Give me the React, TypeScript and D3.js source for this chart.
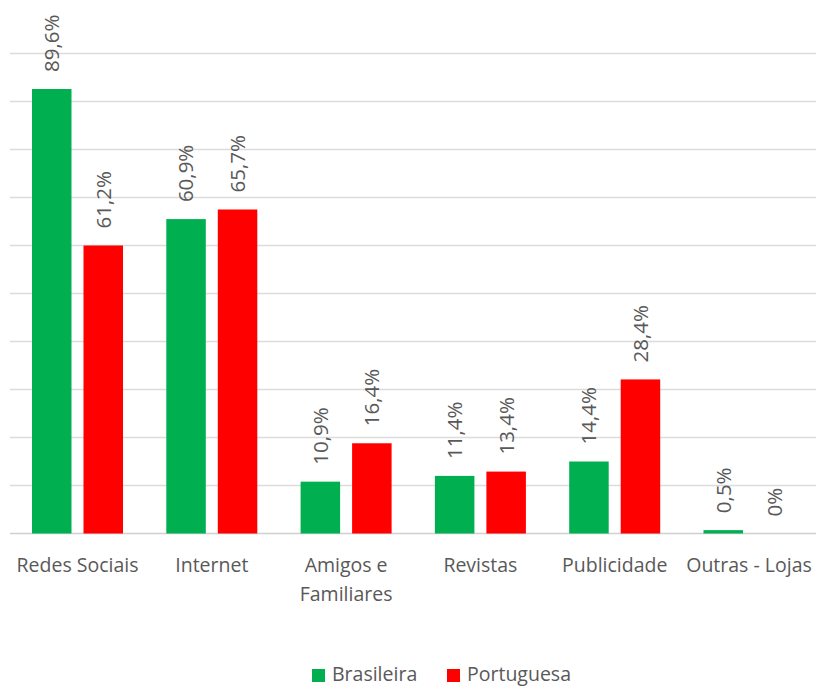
import React from "react";
import * as d3 from "d3";

const categories = ["Redes Sociais", "Internet", "Amigos e Familiares", "Revistas", "Publicidade", "Outras - Lojas"];
const categoryLines = [["Redes Sociais"], ["Internet"], ["Amigos e", "Familiares"], ["Revistas"], ["Publicidade"], ["Outras - Lojas"]];
const seriesNames = ["Brasileira", "Portuguesa"];
// bar heights (gridline step = 10)
const brasileiraValues = [92.6, 65.5, 10.8, 12.0, 15.0, 0.7];
const portuguesaValues = [60.0, 67.5, 18.8, 12.9, 32.1, 0];
const brasileiraLabels = ["89,6%", "60,9%", "10,9%", "11,4%", "14,4%", "0,5%"];
const portuguesaLabels = ["61,2%", "65,7%", "16,4%", "13,4%", "28,4%", "0%"];
const yTicks = [0, 10, 20, 30, 40, 50, 60, 70, 80, 90, 100];
const colors = ["#00B050", "#FF0000"];

const W = 816;
const H = 688;
const FONT = "'Open Sans', sans-serif";
const TEXT = "#595959";

export default function App() {
  const x = d3.scaleBand<string>().domain(categories).range([10.35, 816.15]).paddingInner(0.3224).paddingOuter(0.1612);
  const xs = d3.scaleBand<string>().domain(seriesNames).range([0, x.bandwidth()]).paddingInner(0.233).paddingOuter(0);
  const y = d3.scaleLinear().domain([0, 100]).range([533.5, 53.5]);
  const values = [brasileiraValues, portuguesaValues];
  const labels = [brasileiraLabels, portuguesaLabels];

  return (
    <div style={{ position: "fixed", left: 0, top: 0, width: W, height: H, background: "#fff" }}>
      <svg width={W} height={H} style={{ display: "block" }}>
        <rect width={W} height={H} fill="#fff" />
        {yTicks.map((t) => (
          <line key={t} x1={10} x2={816} y1={y(t)} y2={y(t)} stroke={t === 0 ? "#d0d0d0" : "#dcdcdc"} strokeWidth={1.3} />
        ))}
        {categories.map((c, i) => (
          <g key={c} transform={`translate(${x(c)},0)`}>
            {seriesNames.map((s, k) => {
              const v = values[k][i];
              const bx = xs(s)!;
              const top = y(v);
              const cx = bx + xs.bandwidth() / 2;
              return (
                <g key={s}>
                  {v > 0 && <rect x={bx} y={top} width={xs.bandwidth()} height={y(0) - top} fill={colors[k]} />}
                  <text
                    transform={`translate(${cx},${top - 17}) rotate(-90)`}
                    dy="0.36em"
                    textAnchor="start"
                    fontFamily={FONT}
                    fontSize={20.5}
                    fill={TEXT}
                  >
                    {labels[k][i]}
                  </text>
                </g>
              );
            })}
            {categoryLines[i].map((ln, j) => (
              <text
                key={j}
                x={x.bandwidth() / 2}
                y={571.5 + j * 29}
                textAnchor="middle"
                fontFamily={FONT}
                fontSize={19.5}
                fill={TEXT}
              >
                {ln}
              </text>
            ))}
          </g>
        ))}
        {seriesNames.map((s, k) => {
          const lx = [312, 447][k];
          return (
            <g key={s}>
              <rect x={lx} y={669} width={13} height={13} fill={colors[k]} />
              <text x={lx + 20} y={681} fontFamily={FONT} fontSize={19.5} fill={TEXT}>
                {s}
              </text>
            </g>
          );
        })}
      </svg>
    </div>
  );
}
